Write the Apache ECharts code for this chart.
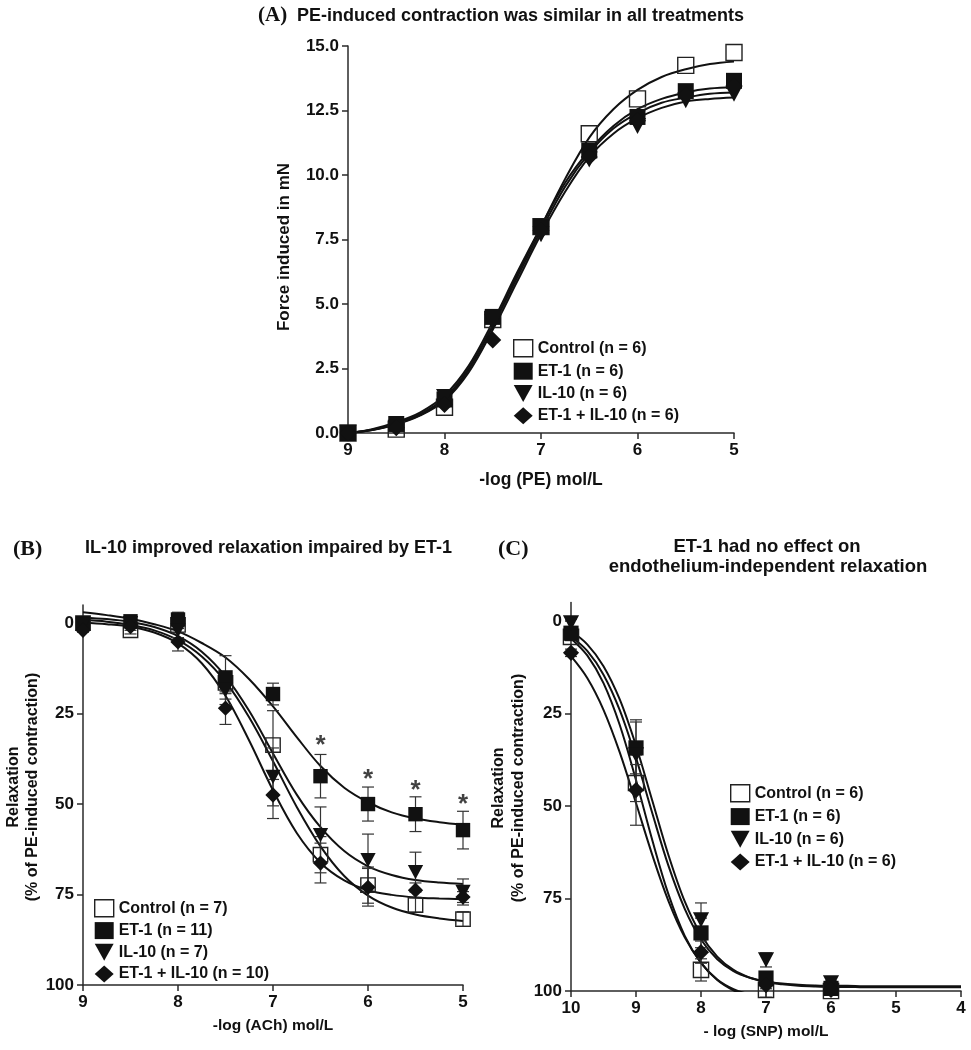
<!DOCTYPE html>
<html><head><meta charset="utf-8">
<script src="https://cdn.jsdelivr.net/npm/echarts@6/dist/echarts.min.js"></script>
<style>html,body{margin:0;padding:0;background:#fff}#c{width:971px;height:1050px}</style>
</head><body><div id="c"></div>
<script>
// ---------------- DATA ----------------
// Panel A: PE concentration-response (force, mN)
const xA = [9, 8.5, 8, 7.5, 7, 6.5, 6, 5.5, 5];
const ctrlA  = [0, 0.15, 1.0, 4.4, 8.0, 11.6, 12.95, 14.25, 14.75];
const et1A   = [0, 0.35, 1.3, 4.5, 8.0, 10.95, 12.25, 13.25, 13.65];
const il10A  = [0, 0.2, 1.4, 4.3, 7.7, 10.6, 11.9, 12.9, 13.15];
const comboA = [0, 0.2, 1.1, 3.6, 7.85, 10.7, 12.1, 13.1, 13.45];
// fitted curves A
const fitXA = [9, 8.75, 8.5, 8.25, 8, 7.75, 7.5, 7.25, 7, 6.75, 6.5, 6.25, 6, 5.75, 5.5, 5.25, 5];
const fitCtrlA  = [0, 0.12, 0.35, 0.7, 1.3, 2.45, 4.15, 6.1, 8.0, 9.85, 11.45, 12.55, 13.3, 13.8, 14.1, 14.3, 14.4];
const fitEt1A   = [0, 0.15, 0.42, 0.8, 1.45, 2.6, 4.3, 6.2, 8.0, 9.7, 10.95, 11.9, 12.55, 12.95, 13.2, 13.35, 13.4];
const fitIl10A  = [0, 0.12, 0.33, 0.68, 1.25, 2.35, 4.0, 5.85, 7.7, 9.35, 10.7, 11.6, 12.2, 12.6, 12.85, 12.95, 13.0];
const fitComboA = [0, 0.13, 0.37, 0.74, 1.35, 2.5, 4.15, 6.0, 7.85, 9.55, 10.85, 11.8, 12.4, 12.8, 13.0, 13.15, 13.2];
const yTicksA = [0, 2.5, 5, 7.5, 10, 12.5, 15];

// Panel B: ACh relaxation (%)
const xB = [9, 8.5, 8, 7.5, 7, 6.5, 6, 5.5, 5];
const ctrlB  = [0, 2, 0.5, 16.5, 33.7, 64, 72.4, 77.9, 81.8];
const ctrlBsem  = [1, 1, 1, 3, 9.5, 5, 5, 2, 2];
const et1B   = [0, -0.5, -1, 15, 19.6, 42.3, 50, 52.8, 57.2];
const et1Bsem   = [0.5, 1, 2, 6, 3, 6, 4.7, 4.8, 5.2];
const il10B  = [0.5, 0, 2, 18.5, 42.5, 58.6, 65.5, 68.8, 74.3];
const il10Bsem  = [0.5, 1, 2, 4, 8, 7.8, 7.2, 5.5, 3.6];
const comboB = [2, 1, 5.2, 23.5, 47.5, 66.3, 73, 73.8, 75.7];
const comboBsem = [0.5, 1, 2.5, 4.5, 6.5, 5.5, 5.2, 2, 1.5];
const fitXB = [9, 8.75, 8.5, 8.25, 8, 7.75, 7.5, 7.25, 7, 6.75, 6.5, 6.25, 6, 5.75, 5.5, 5.25, 5];
const fitCtrlB  = [-0.9, -0.4, 0.5, 2.0, 4.7, 9.2, 16.2, 26.1, 38.2, 50.8, 61.7, 69.9, 75.3, 78.6, 80.5, 81.6, 82.3];
const fitEt1B   = [-3, -2.2, -1.2, 0.3, 2.3, 5.5, 9.5, 15.5, 23, 31.5, 39.5, 45.5, 49.5, 52.3, 54, 55, 55.7];
const fitIl10B  = [-1.5, -1.1, -0.3, 1.1, 3.6, 7.9, 14.7, 24.3, 36, 47.4, 56.4, 63, 67.2, 69.6, 71, 71.7, 72.1];
const fitComboB = [-0.1, 0.3, 1.0, 2.6, 5.6, 11.1, 20.1, 32.5, 46.2, 58, 66.2, 71.1, 73.8, 75.1, 75.8, 76.1, 76.3];
const starX = [6.5, 6, 5.5, 5];
const starY = [32.3, 41.7, 44.8, 48.6];
const yTicksBC = [0, 25, 50, 75, 100];

// Panel C: SNP relaxation (%)
const xC = [10, 9, 8, 7, 6];
const ctrlC  = [4.3, 43.8, 94.3, 99.7, 100];
const ctrlCsem  = [1, 5, 3, 2, 0.5];
const et1C   = [3.3, 34.3, 84.3, 96.5, 99.3];
const et1Csem   = [1, 7, 4, 1.5, 0.5];
const il10C  = [0.5, 36.2, 80.8, 91.6, 97.8];
const il10Csem  = [1, 9.5, 4.6, 1.9, 0.5];
const comboC = [8.6, 45.7, 89.5, 98.4, 99.7];
const comboCsem = [1, 9.5, 3, 1, 0.5];
const fitXC = [10, 9.75, 9.5, 9.25, 9, 8.75, 8.5, 8.25, 8, 7.75, 7.5, 7.25, 7, 6.75, 6.5, 6.25, 6, 5.75, 5.5, 5.25, 5, 4.75, 4.5, 4.25, 4];
const fitComboC = [9.5, 15.4, 24.0, 35.5, 49.2, 63.2, 75.7, 85.5, 92.4, 97.0, 99.8, 101.5, 102.6, 103.2, 103.5, 103.7, 103.8, 103.9, 103.9, 104, 104, 104, 104, 104, 104];
const fitCtrlC  = [4.7, 9.3, 16.8, 28.1, 43.0, 59.2, 73.9, 85.1, 92.4, 96.9, 99.5, 100.9, 101.6, 102.0, 102.3, 102.4, 102.4, 102.5, 102.5, 102.5, 102.5, 102.5, 102.5, 102.5, 102.5];
const fitEt1C   = [4.2, 8.1, 14.5, 24.1, 37.0, 51.9, 66.2, 77.8, 86.1, 91.4, 94.6, 96.4, 97.4, 98.0, 98.3, 98.5, 98.6, 98.6, 98.7, 98.7, 98.7, 98.7, 98.7, 98.7, 98.7];
const fitIl10C  = [2.7, 6.3, 12.2, 21.2, 33.7, 48.5, 63.3, 75.8, 84.8, 90.7, 94.3, 96.4, 97.6, 98.2, 98.6, 98.8, 98.9, 98.9, 99.0, 99.0, 99.0, 99.0, 99.0, 99.0, 99.0];

const namesA = ['Control (n = 6)', 'ET-1 (n = 6)', 'IL-10 (n = 6)', 'ET-1 + IL-10 (n = 6)'];
const namesB = ['Control (n = 7)', 'ET-1 (n = 11)', 'IL-10 (n = 7)', 'ET-1 + IL-10 (n = 10)'];
const namesC = ['Control (n = 6)', 'ET-1 (n = 6)', 'IL-10 (n = 6)', 'ET-1 + IL-10 (n = 6)'];

// ---------------- STYLE ----------------
const FONT = "'Liberation Sans', Arial, Helvetica, sans-serif";
const SERIF = "'Liberation Serif', 'Times New Roman', serif";
const INK = '#111111';
const AX = '#2a2a2a';
const TRI = 'path://M0,0 L20,0 L10,18 Z';
const markerStyles = [
  {symbol: 'rect', itemStyle: {color: 'rgba(255,255,255,0)', borderColor: '#222', borderWidth: 1.4, opacity: 1}},
  {symbol: 'rect', itemStyle: {color: INK, opacity: 1}},
  {symbol: TRI, itemStyle: {color: INK, opacity: 1}},
  {symbol: 'diamond', itemStyle: {color: INK, opacity: 1}}
];
const markerSizes = [[16, 16], [16, 16], [17, 16], [17, 17]];

const zip = (xs, ys) => xs.map((x, i) => [x, ys[i]]);
const zip3 = (xs, ys, es) => xs.map((x, i) => [x, ys[i], es[i]]);

function curve(gi, xs, ys) {
  return {type: 'line', xAxisIndex: gi, yAxisIndex: gi, data: zip(xs, ys), showSymbol: false,
    smooth: 0.35, lineStyle: {color: INK, width: 2}, silent: true, z: 2, clip: true, animation: false};
}
function points(gi, name, k, xs, ys, scale) {
  const m = markerStyles[k];
  const s = markerSizes[k].map(v => v * (scale || 1));
  return {type: 'scatter', name: name, xAxisIndex: gi, yAxisIndex: gi, data: zip(xs, ys),
    symbol: m.symbol, symbolSize: s, itemStyle: m.itemStyle, z: 5, clip: false, animation: false,
    emphasis: {disabled: true}};
}
function errbars(gi, xs, ys, es) {
  return {type: 'custom', xAxisIndex: gi, yAxisIndex: gi, data: zip3(xs, ys, es), z: 3, clip: false,
    silent: true, animation: false, encode: {x: 0, y: 1},
    renderItem: function (params, api) {
      const x = api.value(0), m = api.value(1), s = api.value(2);
      const t = api.coord([x, m - s]), b = api.coord([x, m + s]);
      const cw = 6, st = {stroke: '#333', lineWidth: 1.2};
      return {type: 'group', children: [
        {type: 'line', shape: {x1: t[0], y1: t[1], x2: b[0], y2: b[1]}, style: st},
        {type: 'line', shape: {x1: t[0] - cw, y1: t[1], x2: t[0] + cw, y2: t[1]}, style: st},
        {type: 'line', shape: {x1: b[0] - cw, y1: b[1], x2: b[0] + cw, y2: b[1]}, style: st}
      ]};
    }};
}

function xAxis(gi, min, max, name, nameGap, nameSize) {
  return {type: 'value', gridIndex: gi, min: min, max: max, interval: 1, inverse: true,
    axisLine: {show: true, onZero: false, lineStyle: {color: AX, width: 1.5}},
    axisTick: {show: true, length: 6, lineStyle: {color: AX, width: 1.5}},
    axisLabel: {color: INK, fontFamily: FONT, fontWeight: 'bold', fontSize: 17, margin: 9},
    splitLine: {show: false},
    name: name, nameLocation: 'middle', nameGap: nameGap,
    nameTextStyle: {color: INK, fontFamily: FONT, fontWeight: 'bold', fontSize: nameSize}};
}
function legend(left, top, gap, names) {
  return {left: left, top: top, orient: 'vertical', itemGap: gap, itemWidth: 19, itemHeight: 17,
    textStyle: {color: INK, fontFamily: FONT, fontWeight: 'bold', fontSize: 16}, selectedMode: false,
    data: names.map((n, k) => ({name: n, itemStyle: markerStyles[k].itemStyle}))};
}

const option = {
  backgroundColor: '#fff',
  animation: false,
  grid: [
    {left: 348, top: 46, width: 386, height: 387},
    {left: 83, top: 605, width: 380, height: 380},
    {left: 571, top: 602.5, width: 390, height: 388.5}
  ],
  xAxis: [
    xAxis(0, 5, 9, '-log (PE) mol/L', 38, 17.5),
    xAxis(1, 5, 9, '-log (ACh) mol/L', 33, 15.5),
    xAxis(2, 4, 10, '- log (SNP) mol/L', 33, 15.5)
  ],
  yAxis: [
    {type: 'value', gridIndex: 0, min: 0, max: 15, interval: 2.5,
      axisLine: {show: true, onZero: false, lineStyle: {color: AX, width: 1.5}},
      axisTick: {show: true, length: 6, lineStyle: {color: AX, width: 1.5}, customValues: yTicksA},
      axisLabel: {color: INK, fontFamily: FONT, fontWeight: 'bold', fontSize: 17, margin: 9,
        customValues: yTicksA, formatter: v => v.toFixed(1)},
      splitLine: {show: false}},
    {type: 'value', gridIndex: 1, min: -5, max: 100, inverse: true,
      axisLine: {show: true, onZero: false, lineStyle: {color: AX, width: 1.5}},
      axisTick: {show: true, length: 6, lineStyle: {color: AX, width: 1.5}, customValues: yTicksBC},
      axisLabel: {color: INK, fontFamily: FONT, fontWeight: 'bold', fontSize: 17, margin: 9, customValues: yTicksBC},
      splitLine: {show: false}},
    {type: 'value', gridIndex: 2, min: -5, max: 100, inverse: true,
      axisLine: {show: true, onZero: false, lineStyle: {color: AX, width: 1.5}},
      axisTick: {show: true, length: 6, lineStyle: {color: AX, width: 1.5}, customValues: yTicksBC},
      axisLabel: {color: INK, fontFamily: FONT, fontWeight: 'bold', fontSize: 17, margin: 9, customValues: yTicksBC},
      splitLine: {show: false}}
  ],
  legend: [
    legend(508, 334, 5.3, namesA),
    legend(89, 894, 4.7, namesB),
    legend(725, 779, 5.7, namesC)
  ],
  graphic: [
    {type: 'text', x: 258, y: 16, style: {text: '(A)', font: 'bold 21px ' + SERIF, fill: INK, align: 'left', verticalAlign: 'middle'}},
    {type: 'text', x: 297, y: 16, style: {text: 'PE-induced contraction was similar in all treatments', font: 'bold 18px ' + FONT, fill: INK, align: 'left', verticalAlign: 'middle'}},
    {type: 'text', x: 13, y: 549, style: {text: '(B)', font: 'bold 22px ' + SERIF, fill: INK, align: 'left', verticalAlign: 'middle'}},
    {type: 'text', x: 85, y: 548, style: {text: 'IL-10 improved relaxation impaired by ET-1', font: 'bold 18px ' + FONT, fill: INK, align: 'left', verticalAlign: 'middle'}},
    {type: 'text', x: 498, y: 549, style: {text: '(C)', font: 'bold 22px ' + SERIF, fill: INK, align: 'left', verticalAlign: 'middle'}},
    {type: 'text', x: 767, y: 547, style: {text: 'ET-1 had no effect on', font: 'bold 18.5px ' + FONT, fill: INK, align: 'center', verticalAlign: 'middle'}},
    {type: 'text', x: 768, y: 567, style: {text: 'endothelium-independent relaxation', font: 'bold 18.5px ' + FONT, fill: INK, align: 'center', verticalAlign: 'middle'}},
    {type: 'text', x: 284, y: 247, rotation: Math.PI / 2, style: {text: 'Force induced in mN', font: 'bold 17px ' + FONT, fill: INK, align: 'center', verticalAlign: 'middle'}},
    {type: 'text', x: 14, y: 787, rotation: Math.PI / 2, style: {text: 'Relaxation', font: 'bold 16px ' + FONT, fill: INK, align: 'center', verticalAlign: 'middle'}},
    {type: 'text', x: 33, y: 787, rotation: Math.PI / 2, style: {text: '(% of PE-induced contraction)', font: 'bold 16px ' + FONT, fill: INK, align: 'center', verticalAlign: 'middle'}},
    {type: 'text', x: 499, y: 788, rotation: Math.PI / 2, style: {text: 'Relaxation', font: 'bold 16px ' + FONT, fill: INK, align: 'center', verticalAlign: 'middle'}},
    {type: 'text', x: 519, y: 788, rotation: Math.PI / 2, style: {text: '(% of PE-induced contraction)', font: 'bold 16px ' + FONT, fill: INK, align: 'center', verticalAlign: 'middle'}}
  ],
  series: [
    // A
    curve(0, fitXA, fitCtrlA), curve(0, fitXA, fitEt1A), curve(0, fitXA, fitIl10A), curve(0, fitXA, fitComboA),
    points(0, namesA[0], 0, xA, ctrlA), points(0, namesA[1], 1, xA, et1A),
    points(0, namesA[2], 2, xA, il10A), points(0, namesA[3], 3, xA, comboA),
    // B
    curve(1, fitXB, fitCtrlB), curve(1, fitXB, fitEt1B), curve(1, fitXB, fitIl10B), curve(1, fitXB, fitComboB),
    errbars(1, xB, ctrlB, ctrlBsem), errbars(1, xB, et1B, et1Bsem), errbars(1, xB, il10B, il10Bsem), errbars(1, xB, comboB, comboBsem),
    points(1, namesB[0], 0, xB, ctrlB, 0.9), points(1, namesB[1], 1, xB, et1B, 0.9),
    points(1, namesB[2], 2, xB, il10B, 0.9), points(1, namesB[3], 3, xB, comboB, 0.9),
    {type: 'scatter', xAxisIndex: 1, yAxisIndex: 1, data: zip(starX, starY), symbolSize: 1,
      itemStyle: {color: 'rgba(0,0,0,0)'}, silent: true, z: 6, clip: false,
      label: {show: true, position: 'inside', formatter: '*', offset: [0, 6], color: INK,
        fontFamily: FONT, fontWeight: 'bold', fontSize: 26}},
    // C
    curve(2, fitXC, fitCtrlC), curve(2, fitXC, fitEt1C), curve(2, fitXC, fitIl10C), curve(2, fitXC, fitComboC),
    errbars(2, xC, ctrlC, ctrlCsem), errbars(2, xC, et1C, et1Csem), errbars(2, xC, il10C, il10Csem), errbars(2, xC, comboC, comboCsem),
    points(2, namesC[0], 0, xC, ctrlC, 0.95), points(2, namesC[1], 1, xC, et1C, 0.95),
    points(2, namesC[2], 2, xC, il10C, 0.95), points(2, namesC[3], 3, xC, comboC, 0.95)
  ]
};
const chart = echarts.init(document.getElementById('c'), null, {renderer: 'canvas'});
chart.setOption(option);
</script></body></html>
